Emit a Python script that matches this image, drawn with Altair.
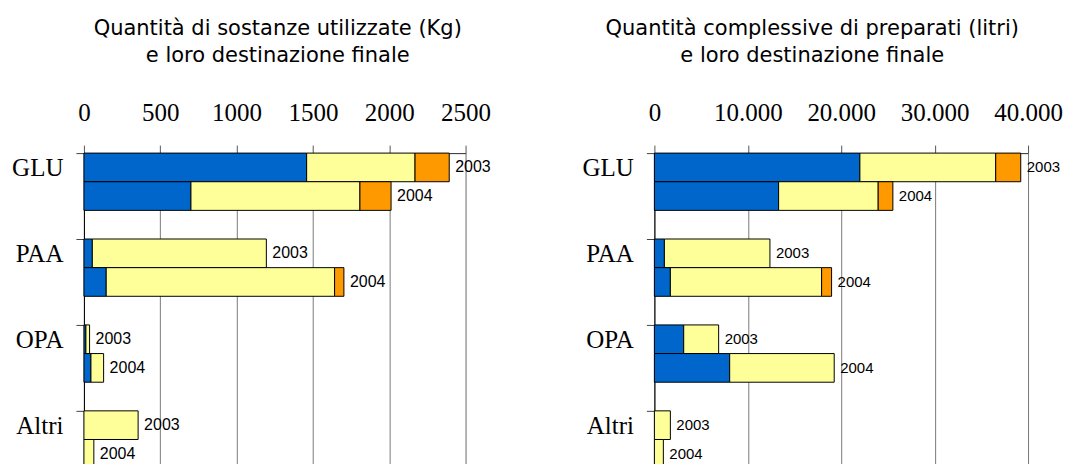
import altair as alt
import pandas as pd

categories = ["GLU", "PAA", "OPA", "Altri"]
years = ["2003", "2004"]
parts = ["Quota 1", "Quota 2", "Quota 3"]
part_colors = ["#0066CC", "#FFFF99", "#FF9900"]

# rows: GLU-2003, GLU-2004, PAA-2003, PAA-2004, OPA-2003, OPA-2004, Altri-2003, Altri-2004
kg_part1 = [1459, 701, 55, 146, 13, 46, 0, 0]
kg_part2 = [710, 1107, 1140, 1496, 24, 83, 355, 65]
kg_part3 = [224, 204, 0, 61, 0, 0, 0, 0]

lt_part1 = [22000, 13300, 1070, 1710, 3140, 8060, 0, 0]
lt_part2 = [14540, 10660, 11300, 16190, 3740, 11190, 1710, 960]
lt_part3 = [2680, 1570, 0, 1070, 0, 0, 0, 0]

kg_ticks = [0, 500, 1000, 1500, 2000, 2500]
lt_ticks = [0, 10000, 20000, 30000, 40000]

title_kg = ["Quantità di sostanze utilizzate (Kg)", "e loro destinazione finale"]
title_lt = ["Quantità complessive di preparati (litri)", "e loro destinazione finale"]


def build(p1, p2, p3):
    rows = []
    i = 0
    for c in categories:
        for yv in years:
            for k, vals in enumerate([p1, p2, p3]):
                rows.append({"cat": c, "year": yv, "part": parts[k], "ord": k, "v": vals[i]})
            i += 1
    return pd.DataFrame(rows)


def panel(df, width, ticks, title, title_dx, label_expr, year_size):
    xaxis = alt.Axis(
        orient="top", title=None, values=ticks, grid=True, gridColor="#7a7a7a",
        gridWidth=1, tickSize=8, tickColor="#555555", domainColor="#333333",
        labelFont="Liberation Serif", labelFontSize=25, labelColor="black",
        labelPadding=20, labelFlush=False, labelOverlap=False, labelExpr=label_expr,
        minExtent=50, maxExtent=50,
    )
    xscale = alt.Scale(domain=[0, ticks[-1]], nice=False)
    y = alt.Y(
        "cat:N", sort=categories,
        scale=alt.Scale(domain=categories, paddingInner=0, paddingOuter=0),
        axis=alt.Axis(
            title=None, bandPosition=0, labelOffset=-28, tickSize=8, labelPadding=13,
            labelFont="Liberation Serif", labelFontSize=25, labelColor="black",
            domainColor="black", tickColor="#444444", grid=False,
            minExtent=75, maxExtent=75,
        ),
    )
    yoff = alt.YOffset(
        "year:N",
        scale=alt.Scale(domain=["2003", "2004", "spazio"], paddingInner=0, paddingOuter=0),
    )
    base = alt.Chart(df)
    bars = base.transform_filter("datum.v > 0").mark_bar(
        stroke="black", strokeWidth=1
    ).encode(
        x=alt.X("v:Q", stack="zero", scale=xscale, axis=xaxis),
        y=y,
        yOffset=yoff,
        color=alt.Color("part:N", scale=alt.Scale(domain=parts, range=part_colors), legend=None),
        order=alt.Order("ord:Q"),
    )
    labels = base.transform_aggregate(
        total="sum(v)", groupby=["cat", "year"]
    ).mark_text(
        align="left", baseline="middle", dx=6, font="Liberation Sans",
        fontSize=year_size, color="black",
    ).encode(
        x=alt.X("total:Q", scale=xscale, axis=xaxis),
        y=y,
        yOffset=yoff,
        text="year:N",
    )
    return alt.layer(bars, labels).properties(
        width=width, height=344,
        title=alt.TitleParams(
            text=title, font="DejaVu Sans", fontSize=21, fontWeight="normal",
            color="black", anchor="middle", dx=title_dx, lineHeight=27, offset=34,
        ),
    )


left = panel(build(kg_part1, kg_part2, kg_part3), 382, kg_ticks, title_kg, 3,
             "format(datum.value, 'd')", 16)
right = panel(build(lt_part1, lt_part2, lt_part3), 374, lt_ticks, title_lt, -29,
              "replace(format(datum.value, ','), ',', '.')", 15)

chart = alt.hconcat(left, right, spacing=189, bounds="flush").properties(
    padding={"left": 0, "top": 9, "right": 0, "bottom": 0}
).configure_view(stroke=None).configure(background="white")

chart.save("out.html", embed_options={"renderer": "svg", "actions": False})
